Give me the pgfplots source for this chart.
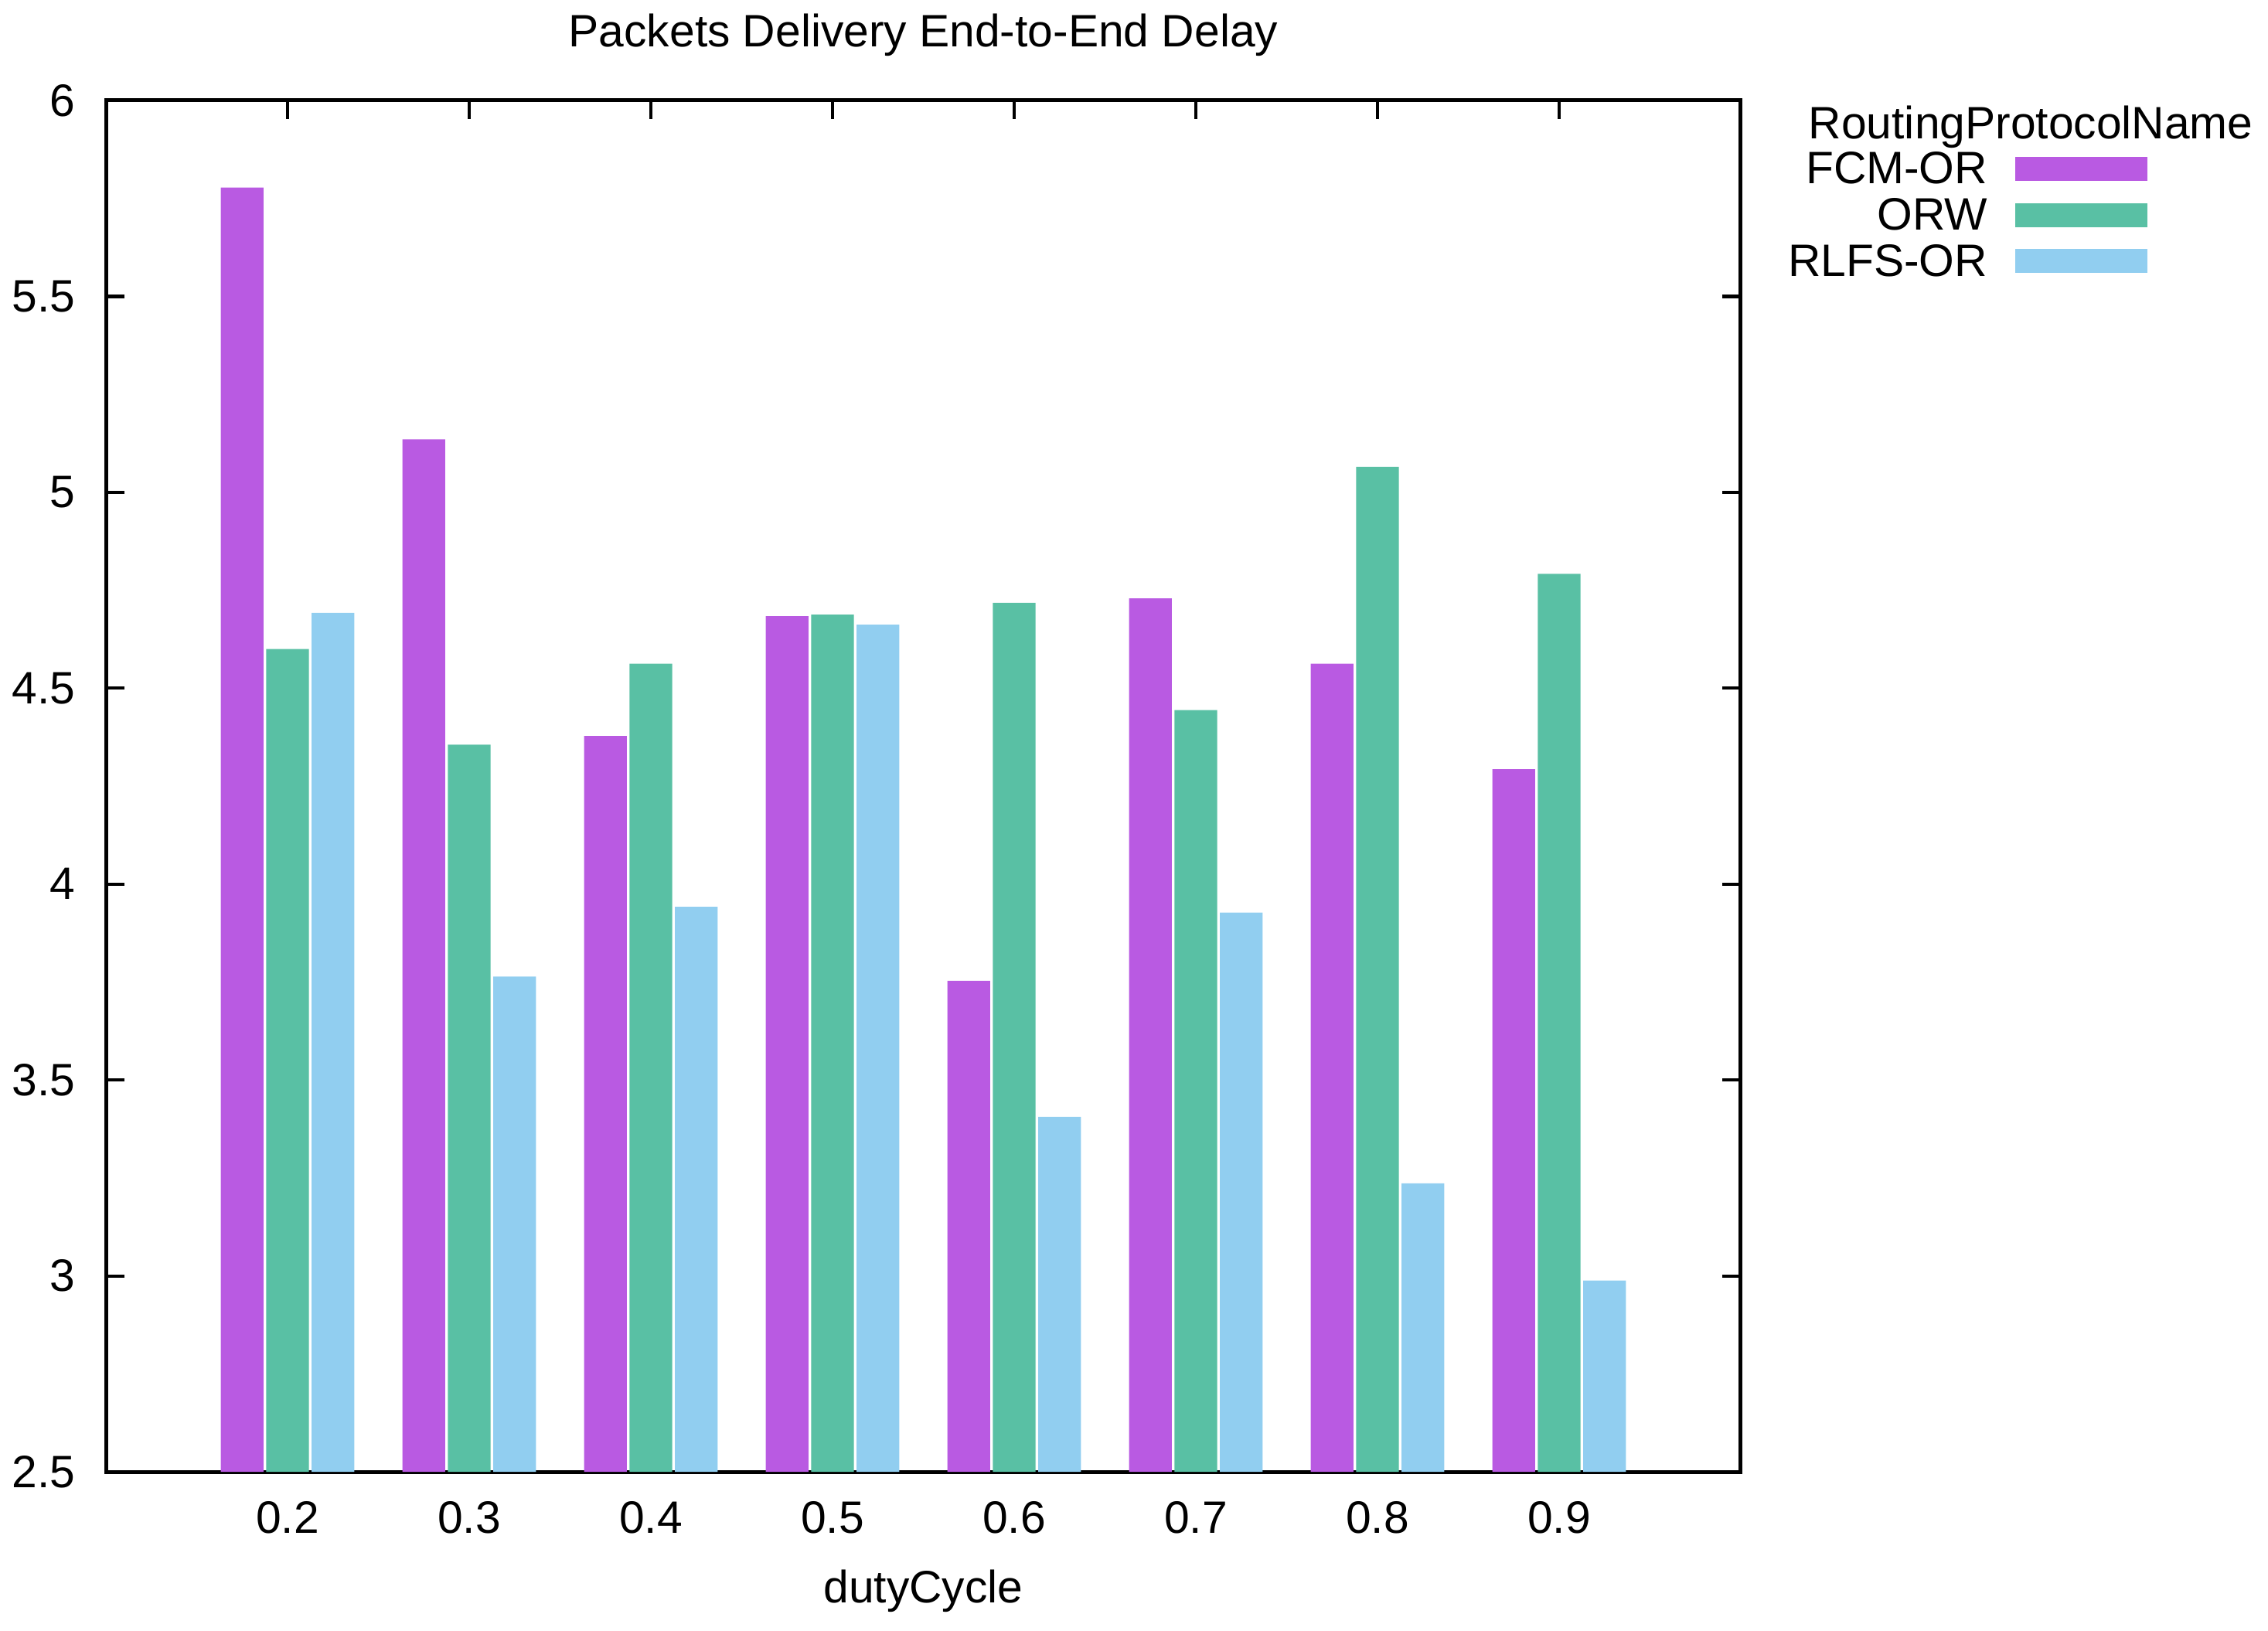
\documentclass[border=0pt]{standalone}
\usepackage{fontspec}
\setmainfont{Liberation Sans}
\usepackage{pgfplots}
\pgfplotsset{compat=1.18}
\definecolor{cA}{HTML}{B95AE2}
\definecolor{cB}{HTML}{59C0A4}
\definecolor{cC}{HTML}{91CEF0}
\pgfplotsset{swatch/.style={legend image code/.code={\path[fill=none,draw=none] (0pt,-7.15pt) rectangle (41pt,7.15pt); \fill[##1] (0pt,-3.7pt) rectangle (41pt,3.7pt);}}}
\begin{document}
\begin{tikzpicture}
\begin{axis}[
 at={(0,0)}, anchor=south west,
 width=507.6pt, height=425.8pt, scale only axis,
 font=\fontsize{14.1pt}{17pt}\selectfont,
 xmin=-1, xmax=8, ymin=2.5, ymax=6,
 xtick={0,1,2,3,4,5,6,7},
 xticklabels={0.2,0.3,0.4,0.5,0.6,0.7,0.8,0.9},
 ytick={2.5,3,3.5,4,4.5,5,5.5,6},
 xtick pos=right, xticklabel pos=left,
 ytick pos=both, yticklabel pos=left,
 tick align=inside, major tick length=5.8pt,
 every tick/.style={black, line width=1pt},
 axis line style={line width=1.2pt},
 /pgf/number format/assume math mode=true,
 yticklabel style={anchor=east, xshift=-9.3pt, inner sep=0pt},
 xticklabel style={anchor=base, yshift=-19pt, inner sep=0pt},
 xlabel={dutyCycle},
 xlabel style={at={(axis description cs:0.5,0)}, anchor=base, yshift=-40.6pt, inner sep=0pt},
 title={Packets Delivery End-to-End Delay},
 title style={at={(axis description cs:0.5,1)}, anchor=base, yshift=10.7pt, inner sep=0pt},
 legend cell align=right, legend plot pos=right,
 legend style={draw=none, fill=none, at={(1.2486,0.9668)}, anchor=north east,
   inner sep=0pt, outer sep=0pt, row sep=0pt, column sep=8.6pt,
   nodes={inner sep=0pt, text height=11.75pt, text depth=2.55pt},
   font=\fontsize{14.1pt}{17pt}\selectfont},
]
\addplot[ybar, bar width=0.235, bar shift=-0.25, fill=cA, draw=none, swatch] coordinates {
 (0,5.778) (1,5.135) (2,4.378) (3,4.684) (4,3.753) (5,4.729) (6,4.5625) (7,4.293)};
\addlegendentry{FCM-OR}
\addplot[ybar, bar width=0.235, bar shift=0, fill=cB, draw=none, swatch] coordinates {
 (0,4.600) (1,4.356) (2,4.5625) (3,4.688) (4,4.718) (5,4.444) (6,5.065) (7,4.792)};
\addlegendentry{ORW}
\addplot[ybar, bar width=0.235, bar shift=0.25, fill=cC, draw=none, swatch] coordinates {
 (0,4.692) (1,3.764) (2,3.942) (3,4.662) (4,3.406) (5,3.927) (6,3.236) (7,2.988)};
\addlegendentry{RLFS-OR}
\end{axis}
\node[anchor=base west, inner sep=0pt, font=\fontsize{14.1pt}{17pt}\selectfont] at (528.5pt,414.0pt) {RoutingProtocolName};
\pgfresetboundingbox
\path[use as bounding box] (-32.9pt,-49.2pt) rectangle (671.3pt,457.0pt);
\end{tikzpicture}
\end{document}
